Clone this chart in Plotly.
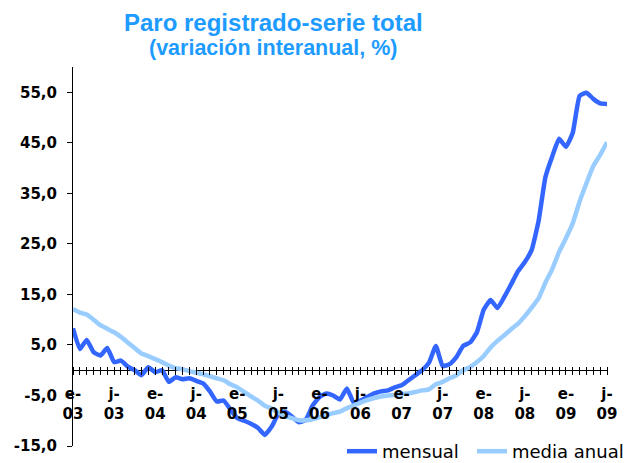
import plotly.graph_objects as go

# month index 0 = Jan 2003 ... 78 = Jul 2009
months = list(range(79))

mensual = [
    8.3, 4.2, 6.0, 3.6, 2.9, 4.4, 1.6, 1.9, 0.7, 0.0, -1.0, 0.6,
    -0.4, 0.0, -2.3, -1.4, -1.8, -1.6, -2.1, -2.6, -4.2, -6.2, -6.0, -7.8,
    -9.5, -10.0, -10.6, -11.4, -12.8, -11.2, -8.7, -8.2, -9.2, -10.3, -9.8, -7.0,
    -5.3, -4.6, -5.0, -5.8, -3.6, -6.4, -6.0, -5.3, -4.6, -4.2, -4.0, -3.4,
    -3.0, -2.0, -1.0, 0.0, 1.5, 4.8, 0.8, 1.2, 2.6, 4.8, 5.5, 7.5,
    12.0, 13.9, 12.3, 14.5, 17.0, 19.6, 21.4, 23.8, 29.5, 38.2, 42.3, 45.8,
    44.2, 47.0, 54.3, 54.9, 53.7, 52.8, 52.7,
]

media_anual = [
    12.1, 11.4, 11.0, 10.0, 8.9, 8.2, 7.5, 6.6, 5.5, 4.4, 3.3, 2.8,
    2.2, 1.6, 0.9, 0.4, 0.2, -0.2, -0.5, -0.8, -1.2, -1.6, -2.0, -2.8,
    -3.4, -4.3, -5.2, -6.0, -7.0, -7.6, -8.4, -9.1, -9.5, -9.9, -9.9, -9.7,
    -9.3, -8.9, -8.5, -8.2, -7.5, -7.0, -6.4, -5.9, -5.5, -5.2, -5.0, -4.9,
    -4.7, -4.6, -4.3, -4.0, -3.8, -2.8, -2.3, -1.6, -1.0, 0.0, 0.6, 1.6,
    2.8, 4.5, 5.8, 6.9, 8.1, 9.2, 10.7, 12.4, 14.2, 17.3, 20.0, 23.4,
    26.1, 29.1, 33.4, 37.0, 40.4, 42.6, 45.1,
]

label_months = [0, 6, 12, 18, 24, 30, 36, 42, 48, 54, 60, 66, 72, 78]
label_text = ["e-<br>03", "j-<br>03", "e-<br>04", "j-<br>04", "e-<br>05", "j-<br>05",
              "e-<br>06", "j-<br>06", "e-<br>07", "j-<br>07", "e-<br>08", "j-<br>08",
              "e-<br>09", "j-<br>09"]

y_ticks = [-15, -5, 5, 15, 25, 35, 45, 55]
y_text = ["-15,0", "-5,0", "5,0", "15,0", "25,0", "35,0", "45,0", "55,0"]

series_names = ["mensual", "media anual"]
series_colors = ["#3366FF", "#99CCFF"]
series_legends = ["legend", "legend2"]

label_map = dict(zip(label_months, label_text))
x_ticktext = [label_map.get(m, "") for m in months]

fig = go.Figure()
for name, vals, col, lg in zip(series_names, [mensual, media_anual], series_colors, series_legends):
    fig.add_trace(go.Scatter(x=months, y=vals, mode="lines", name=name, legend=lg,
                             line=dict(color=col, width=4.5, shape="spline", smoothing=0.4),
                             hoverinfo="skip"))

# the page body adds an 8px offset; figure coordinates are page coordinates - 8
OFF = 8
W, H = 627, 475
ML, MT = 73 - OFF, 67 - OFF
PLOT_BOTTOM = 446 - OFF
PLOT_RIGHT = 607 - OFF
plot_w = PLOT_RIGHT - ML
plot_h = PLOT_BOTTOM - MT
y_min, y_max = -15, 60
zero_pos = (0 - y_min) / (y_max - y_min)


def px_y(page_y):
    return (PLOT_BOTTOM - (page_y - OFF)) / plot_h


def px_x(page_x):
    return ((page_x - OFF) - ML) / plot_w


legend_font = dict(family="DejaVu Sans", size=18, color="#000000")

fig.update_layout(
    width=W, height=H,
    margin=dict(l=ML, r=W - PLOT_RIGHT, t=MT, b=H - PLOT_BOTTOM, autoexpand=False),
    paper_bgcolor="white", plot_bgcolor="white",
    showlegend=True,
    legend=dict(orientation="h", x=px_x(342), xanchor="left", y=px_y(451.5), yanchor="middle",
                font=legend_font, bgcolor="rgba(0,0,0,0)"),
    legend2=dict(orientation="h", x=px_x(472), xanchor="left", y=px_y(451.5), yanchor="middle",
                 font=legend_font, bgcolor="rgba(0,0,0,0)"),
    xaxis=dict(range=[0, 78], anchor="free", position=zero_pos + 4 / plot_h,
               automargin=False,
               showline=False, showgrid=False, zeroline=False,
               tickmode="array", tickvals=months, ticktext=x_ticktext,
               ticks="outside", ticklen=8, tickwidth=1, tickcolor="#000000",
               ticklabelstandoff=6,
               tickfont=dict(family="DejaVu Sans", size=15, color="#000000", weight="bold")),
    yaxis=dict(range=[y_min, y_max], automargin=False,
               showline=True, linecolor="#000000", linewidth=1,
               showgrid=False, zeroline=True, zerolinecolor="#000000", zerolinewidth=1,
               tickmode="array", tickvals=y_ticks, ticktext=y_text,
               ticks="outside", ticklen=5, tickwidth=1, tickcolor="#000000",
               ticklabelstandoff=7,
               tickfont=dict(family="DejaVu Sans", size=15, color="#000000", weight="bold")),
    annotations=[
        dict(text="Paro registrado-serie total", xref="paper", yref="paper",
             x=px_x(273), y=px_y(23), xanchor="center", yanchor="middle",
             showarrow=False,
             font=dict(family="Liberation Sans", size=24, color="#1E9BFF", weight="bold")),
        dict(text="(variación interanual, %)", xref="paper", yref="paper",
             x=px_x(273), y=px_y(48), xanchor="center", yanchor="middle",
             showarrow=False,
             font=dict(family="Liberation Sans", size=21.5, color="#1E9BFF", weight="bold")),
    ],
)

fig.write_html("out.html")
